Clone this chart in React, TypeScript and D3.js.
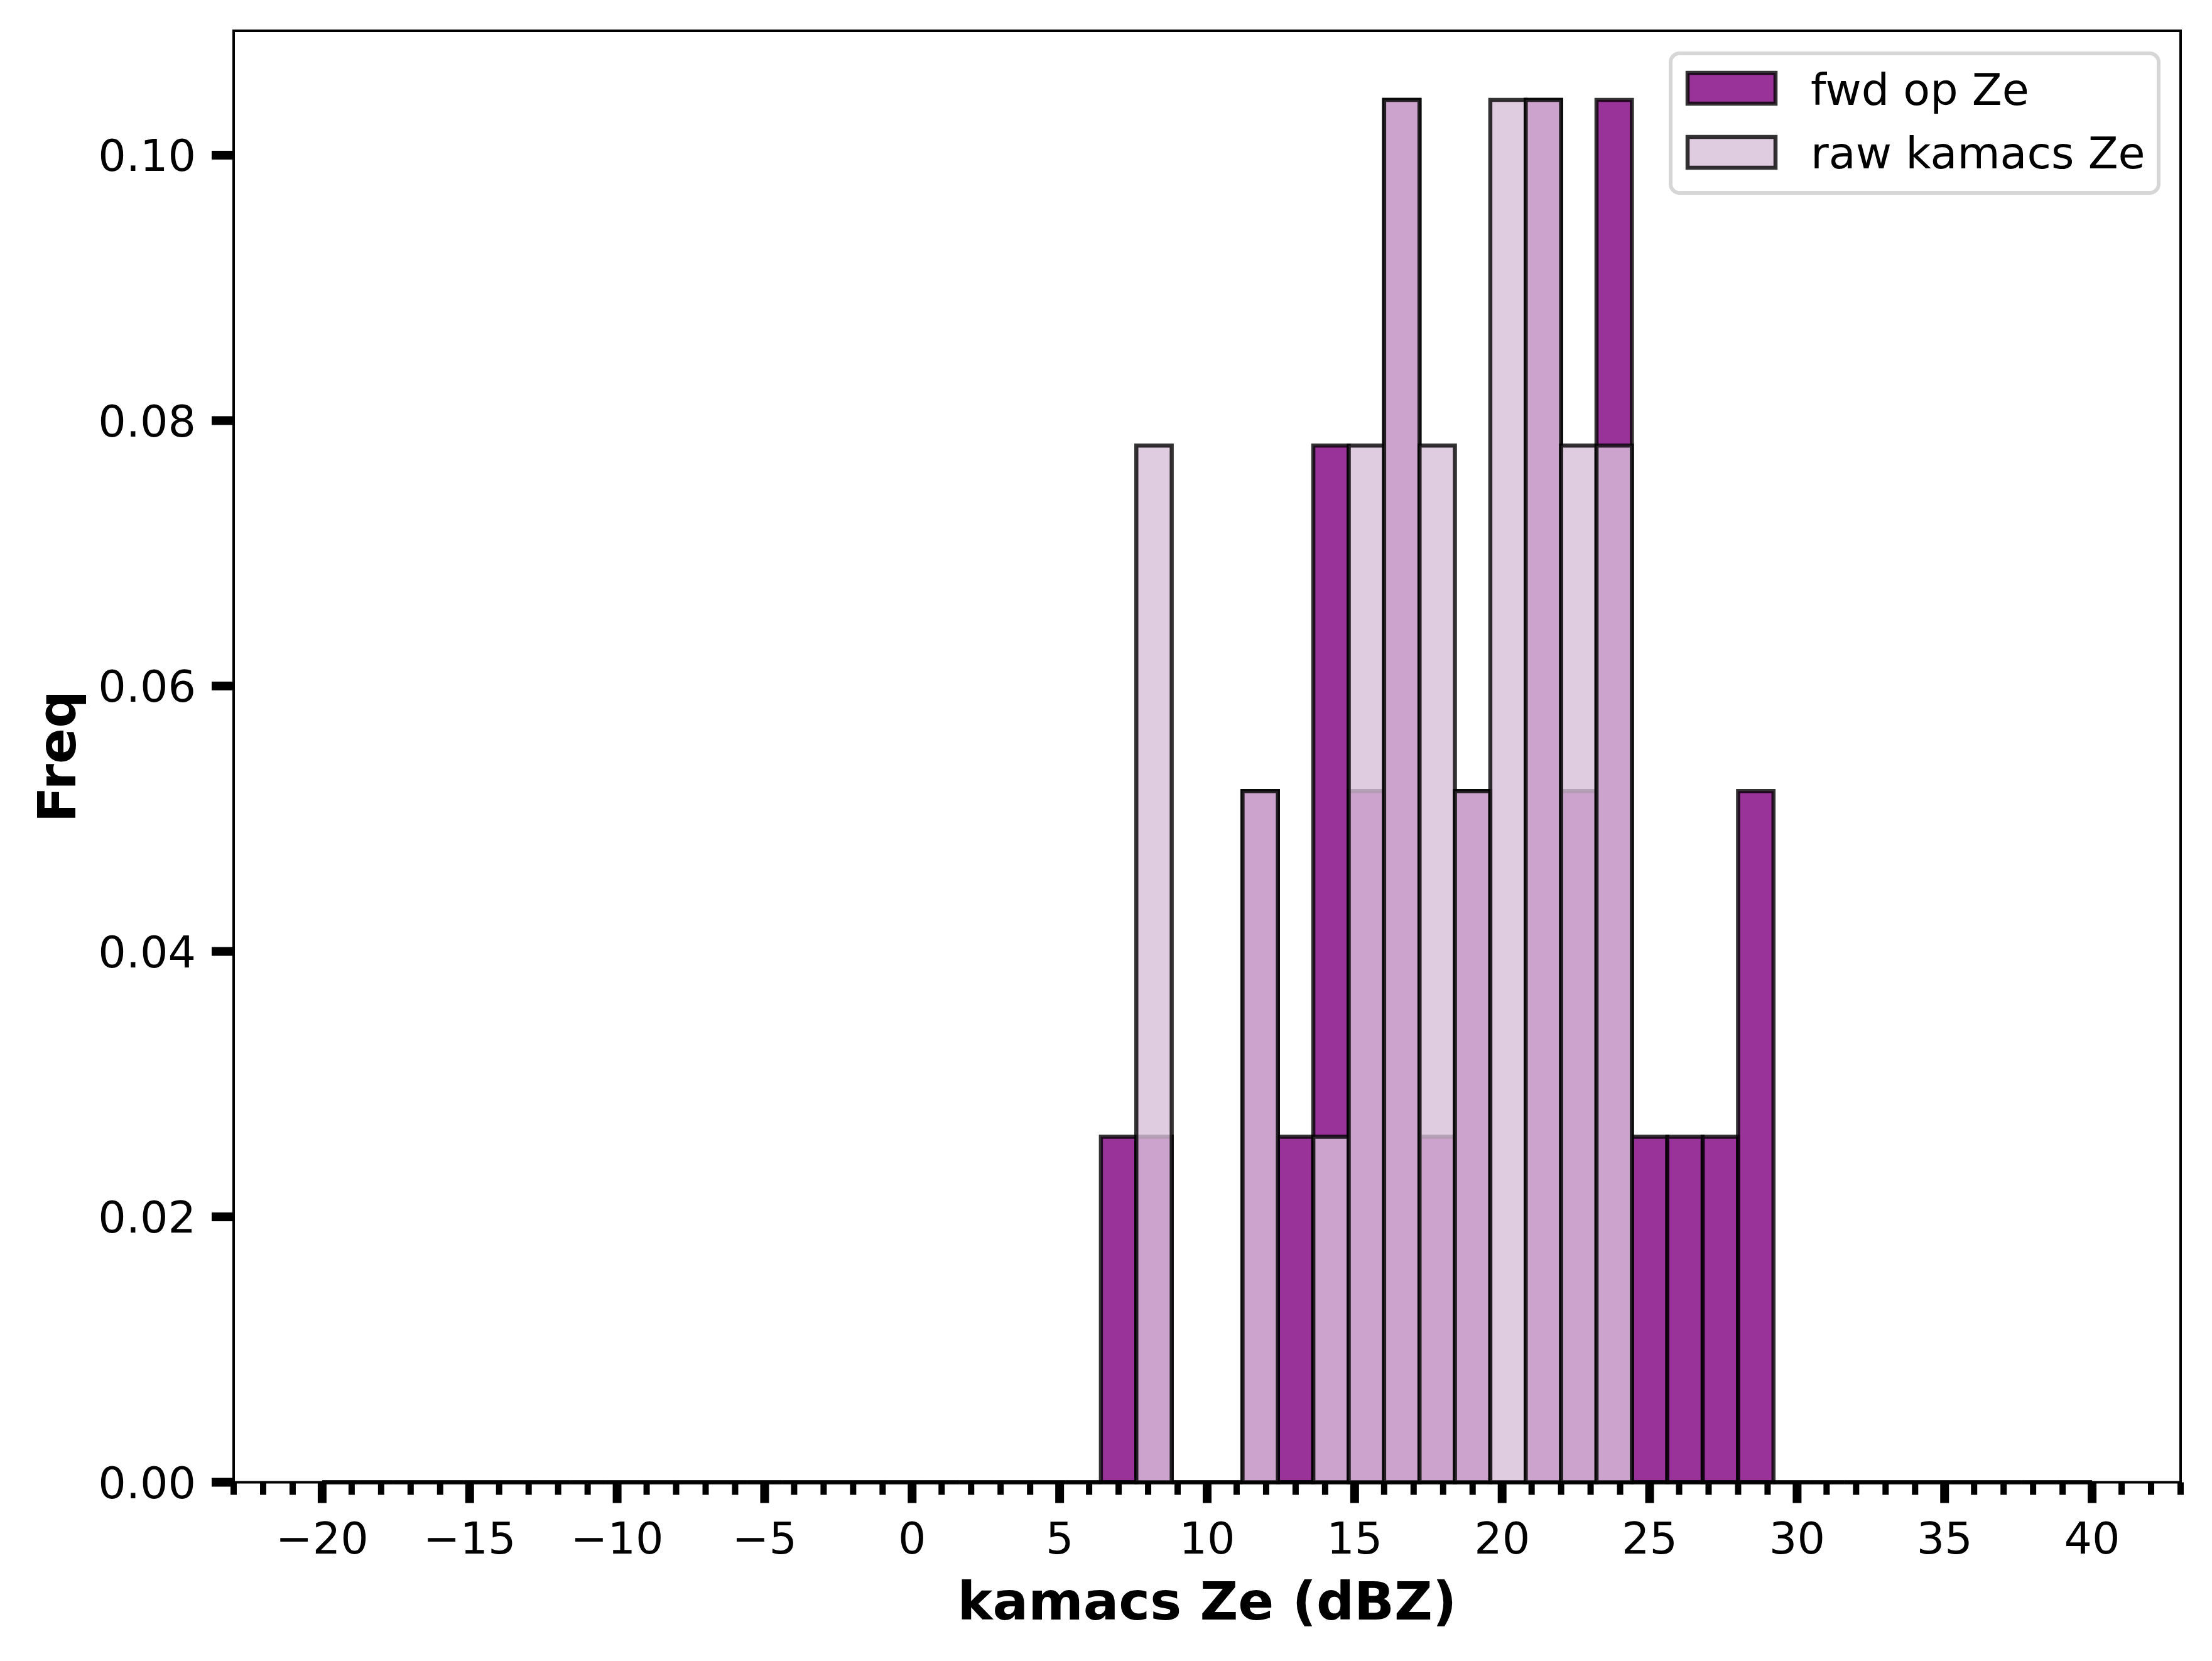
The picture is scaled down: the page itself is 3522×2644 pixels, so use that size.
import React, { useEffect } from "react";
import * as d3 from "d3";

// ---- data ----
const binStart = -20;
const binWidth = 1.2;
const binCount = 50;
// counts per bin (bins of 1.2 dBZ from -20 to 40)
const fwdCounts = [
  0, 0, 0, 0, 0, 0, 0, 0, 0, 0,
  0, 0, 0, 0, 0, 0, 0, 0, 0, 0,
  0, 0, 1, 1, 0, 0, 2, 1, 3, 2,
  4, 1, 2, 0, 4, 2, 4, 1, 1, 1,
  2, 0, 0, 0, 0, 0, 0, 0, 0, 0,
];
const rawCounts = [
  0, 0, 0, 0, 0, 0, 0, 0, 0, 0,
  0, 0, 0, 0, 0, 0, 0, 0, 0, 0,
  0, 0, 0, 3, 0, 0, 2, 0, 1, 3,
  4, 3, 2, 4, 4, 3, 3, 0, 0, 0,
  0, 0, 0, 0, 0, 0, 0, 0, 0, 0,
];
const seriesNames = ["fwd op Ze", "raw kamacs Ze"];
const seriesColors = ["#800080", "#d8bfd8"];
const xMajorTicks = [-20, -15, -10, -5, 0, 5, 10, 15, 20, 25, 30, 35, 40];
const yTicks = [0.0, 0.02, 0.04, 0.06, 0.08, 0.1];
const xLabel = "kamacs Ze (dBZ)";
const yLabel = "Freq";

// ---- layout ----
const W = 3522;
const H = 2644;
const left = 372;
const right = 3472;
const top = 49;
const bottom = 2359.5;
const FONT = "DejaVu Sans, Liberation Sans, sans-serif";

function toDensity(counts: number[]) {
  const total = d3.sum(counts);
  return counts.map((c) => c / (total * binWidth));
}

export default function App() {
  useEffect(() => {
    document.body.style.margin = "0";
  }, []);

  const x = d3.scaleLinear().domain([-23, 43]).range([left, right]);
  const maxD = d3.max([...toDensity(fwdCounts), ...toDensity(rawCounts)]) as number;
  const y = d3.scaleLinear().domain([0, maxD * 1.05]).range([bottom, top]);

  const series = [fwdCounts, rawCounts].map((c) => toDensity(c));
  const edges = d3.range(binCount + 1).map((i) => binStart + i * binWidth);

  const barPath = (i: number, v: number) => {
    const p = d3.path();
    const x0 = x(edges[i]);
    const x1 = x(edges[i + 1]);
    const y0 = y(0);
    const y1 = y(v);
    p.moveTo(x0, y0);
    p.lineTo(x0, y1);
    p.lineTo(x1, y1);
    p.lineTo(x1, y0);
    p.closePath();
    return p.toString();
  };

  const minorTicks = d3.range(-23, 44, 1).filter((v) => !xMajorTicks.includes(v));
  const fmtY = d3.format(".2f");
  const fmtX = (v: number) => (v < 0 ? "\u2212" + Math.abs(v) : String(v));

  return (
    <svg
      width={W}
      height={H}
      viewBox={`0 0 ${W} ${H}`}
      style={{ display: "block", position: "absolute", left: 0, top: 0, background: "#fff" }}
      fontFamily={FONT}
    >
      <rect x={0} y={0} width={W} height={H} fill="#ffffff" />
      {/* bars */}
      {series.map((vals, si) => (
        <g key={si}>
          {vals.map((v, i) => (
            <path
              key={i}
              d={barPath(i, v)}
              fill={seriesColors[si]}
              fillOpacity={0.8}
              stroke="#000"
              strokeOpacity={0.8}
              strokeWidth={6.5}
              strokeLinejoin="miter"
            />
          ))}
        </g>
      ))}
      {/* spines */}
      <rect
        x={left}
        y={top}
        width={right - left}
        height={bottom - top}
        fill="none"
        stroke="#000"
        strokeWidth={4}
      />
      {/* x ticks */}
      {minorTicks.map((v) => (
        <line key={"m" + v} x1={x(v)} x2={x(v)} y1={bottom} y2={bottom + 20} stroke="#000" strokeWidth={10} />
      ))}
      {xMajorTicks.map((v) => (
        <g key={"x" + v}>
          <line x1={x(v)} x2={x(v)} y1={bottom} y2={bottom + 33} stroke="#000" strokeWidth={14} />
          <text x={x(v)} y={2473} textAnchor="middle" fontSize={70} fill="#000">
            {fmtX(v)}
          </text>
        </g>
      ))}
      {/* y ticks */}
      {yTicks.map((v) => (
        <g key={"y" + v}>
          <line x1={left - 35} x2={left} y1={y(v)} y2={y(v)} stroke="#000" strokeWidth={14} />
          <text x={312} y={y(v) + 25} textAnchor="end" fontSize={70} fill="#000">
            {fmtY(v)}
          </text>
        </g>
      ))}
      {/* axis labels */}
      <text x={(left + right) / 2} y={2578} textAnchor="middle" fontSize={84} fontWeight="bold" fill="#000">
        {xLabel}
      </text>
      <text
        transform={`translate(120, ${(top + bottom) / 2}) rotate(-90)`}
        textAnchor="middle"
        fontSize={84}
        fontWeight="bold"
        fill="#000"
      >
        {yLabel}
      </text>
      {/* legend */}
      <g>
        <rect
          x={2660}
          y={85}
          width={3437 - 2660}
          height={307 - 85}
          rx={14}
          ry={14}
          fill="#fff"
          fillOpacity={0.8}
          stroke="#d6d6d6"
          strokeWidth={6}
        />
        {seriesNames.map((name, si) => {
          const py = si === 0 ? 116 : 218;
          return (
            <g key={name}>
              <rect
                x={2687}
                y={py}
                width={140}
                height={49}
                fill={seriesColors[si]}
                fillOpacity={0.8}
                stroke="#000"
                strokeOpacity={0.8}
                strokeWidth={6.5}
              />
              <text x={2883} y={si === 0 ? 167 : 268} fontSize={70} fill="#000">
                {name}
              </text>
            </g>
          );
        })}
      </g>
    </svg>
  );
}
